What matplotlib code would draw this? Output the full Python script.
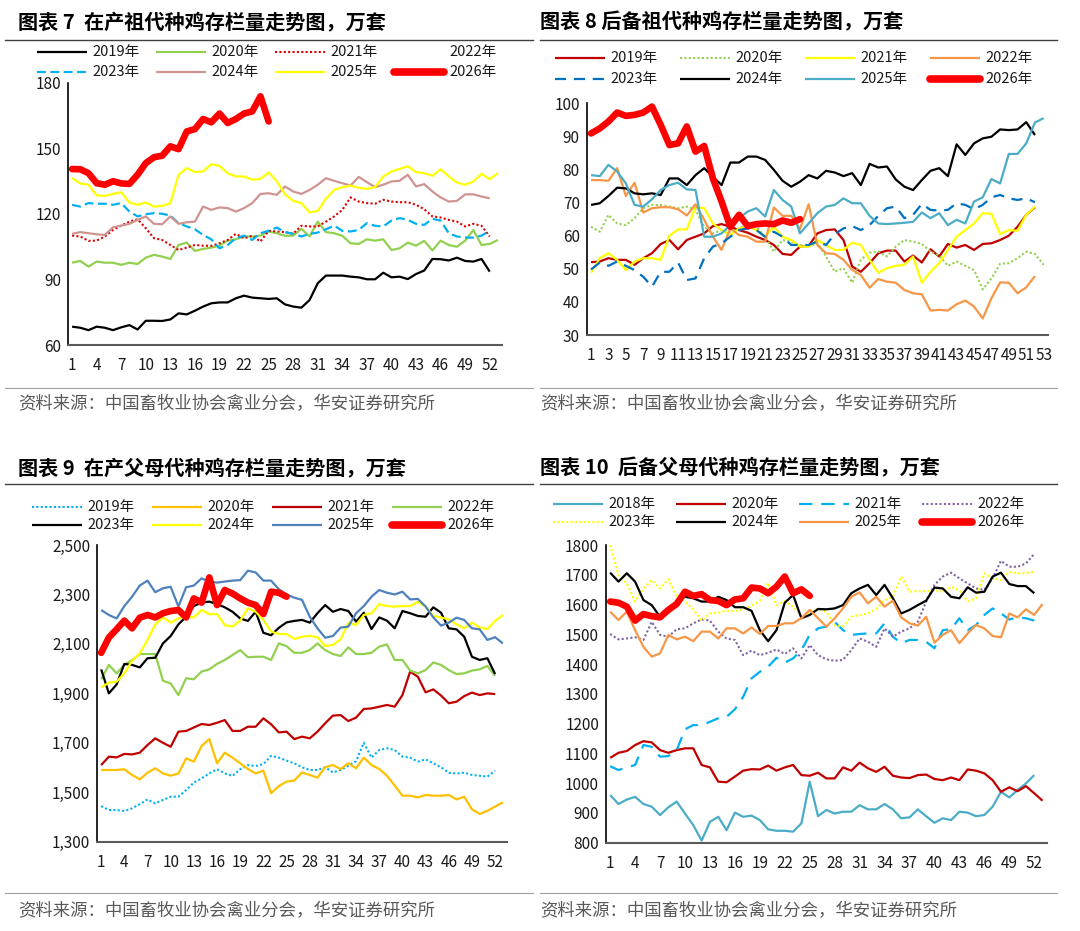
import matplotlib
matplotlib.use("Agg")
import matplotlib.pyplot as plt
from matplotlib.lines import Line2D
import numpy as np

plt.rcParams['font.family'] = ['Noto Sans CJK SC', 'DejaVu Sans']

W, H = 1080, 931

# ---------------- 图表7 在产祖代 ----------------
p1_2019 = [68.4, 67.9, 66.8, 68.4, 67.9, 66.8, 68.1, 69.1, 67.1, 71.1, 71.1, 71.0, 71.7, 74.5, 74.0, 75.7, 77.6, 79.1,
           79.5, 79.5, 81.4, 82.6, 81.7, 81.4, 81.1, 81.4, 78.6, 77.6, 77.1, 80.6, 88.3, 91.8, 91.8, 91.8, 91.3, 91.0,
           90.1, 90.1, 93.1, 91.0, 91.3, 90.2, 92.5, 94.1, 99.4, 99.3, 98.7, 100.0, 98.5, 98.2, 99.4, 93.6]
p1_2020 = [97.7, 98.5, 95.9, 98.2, 97.7, 97.7, 96.7, 97.7, 97.1, 100.0, 101.3, 100.5, 99.4, 105.8, 106.9, 103.1, 104.0,
           104.6, 105.5, 107.8, 108.4, 109.7, 109.7, 110.1, 112.0, 111.2, 110.0, 110.1, 113.2, 109.7, 116.5, 111.7,
           111.2, 110.0, 106.6, 106.3, 108.4, 107.8, 108.4, 103.5, 104.3, 106.9, 105.5, 107.7, 103.3, 107.8, 105.8,
           105.0, 107.8, 112.7, 105.8, 106.3, 108.1]
p1_2021 = [110.1, 109.7, 107.7, 107.8, 109.7, 112.7, 114.7, 116.5, 117.6, 113.5, 108.9, 108.1, 105.8, 103.5, 104.6,
           105.8, 105.5, 105.4, 106.6, 108.1, 110.9, 108.9, 110.0, 107.4, 112.3, 112.0, 111.7, 111.0, 114.6, 114.3,
           114.3, 116.5, 118.9, 121.9, 127.6, 125.7, 125.0, 124.7, 126.5, 125.7, 125.4, 125.4, 124.2, 122.2, 118.9,
           118.4, 117.3, 116.5, 114.3, 115.5, 114.6, 109.7]
p1_2023 = [124.2, 123.4, 125.0, 124.7, 124.7, 124.2, 125.0, 121.1, 118.9, 119.9, 120.4, 120.1, 119.3, 115.8, 114.3,
           113.0, 110.4, 108.4, 104.3, 105.8, 108.9, 110.1, 108.1, 111.2, 112.3, 113.8, 111.7, 110.9, 109.7, 110.9,
           111.5, 113.0, 114.7, 112.3, 112.0, 112.7, 115.8, 114.6, 114.3, 117.0, 118.1, 117.3, 115.5, 115.0, 117.8,
           117.0, 111.2, 109.7, 109.2, 109.2, 110.1, 112.3]
p1_2024 = [110.9, 111.7, 111.2, 110.7, 110.4, 113.9, 114.7, 115.5, 117.3, 118.9, 115.5, 115.3, 118.9, 115.5, 116.2,
           116.5, 123.4, 121.9, 123.0, 122.7, 121.1, 122.7, 125.0, 129.2, 129.5, 128.8, 132.6, 130.3, 129.2, 131.0,
           133.4, 136.4, 135.2, 134.1, 133.0, 137.0, 134.6, 132.3, 133.4, 134.9, 135.2, 138.0, 132.6, 133.7, 130.3,
           127.6, 125.7, 126.0, 129.0, 129.0, 128.0, 127.2]
p1_2025 = [136.4, 134.0, 133.4, 128.5, 128.3, 129.2, 130.0, 125.3, 124.2, 125.3, 123.4, 123.7, 125.0, 138.0, 141.0,
           139.2, 139.5, 142.8, 142.0, 138.7, 137.2, 137.2, 135.7, 136.1, 139.0, 135.0, 129.0, 126.0, 125.0, 120.7,
           121.4, 127.0, 131.0, 132.3, 133.0, 132.0, 131.5, 132.3, 137.2, 139.5, 140.7, 141.8, 139.2, 138.7, 137.5,
           140.5, 137.2, 134.4, 133.4, 134.9, 138.4, 136.0, 138.7]
p1_2026 = [140.6, 140.5, 138.7, 134.1, 133.4, 135.0, 134.0, 133.8, 138.0, 143.3, 146.0, 146.7, 151.0, 149.7, 157.8,
           158.9, 163.5, 162.0, 166.0, 161.7, 163.5, 166.0, 167.0, 173.9, 162.4]

# ---------------- 图表8 后备祖代 ----------------
p2_2019 = [52.0, 52.2, 53.2, 52.7, 52.7, 51.2, 53.2, 54.7, 57.5, 58.7, 55.9, 58.7, 59.7, 60.7, 62.9, 63.5, 62.7, 61.7,
           60.9, 59.7, 58.7, 57.2, 54.5, 54.2, 56.7, 56.9, 60.7, 61.7, 61.9, 58.7, 50.7, 49.1, 51.7, 54.7, 55.5, 55.5,
           52.2, 54.0, 51.9, 55.9, 53.7, 57.5, 56.4, 57.2, 55.7, 57.5, 57.7, 58.7, 60.0, 62.7, 66.3, 68.6]
p2_2020 = [62.7, 61.2, 66.3, 63.7, 63.2, 65.3, 68.3, 69.3, 69.3, 68.8, 68.3, 68.8, 67.8, 62.7, 60.7, 61.7, 61.2, 62.2,
           63.2, 62.7, 59.7, 55.2, 58.7, 58.2, 57.2, 56.7, 57.7, 53.7, 49.1, 50.2, 45.8, 52.7, 54.9, 55.2, 53.7, 56.7,
           58.7, 58.2, 57.5, 55.2, 54.0, 50.9, 52.2, 50.9, 49.6, 43.8, 47.1, 51.5, 51.7, 53.2, 55.2, 54.5, 51.2]
p2_2021 = [48.8, 53.2, 54.7, 52.7, 49.6, 52.2, 53.2, 53.2, 52.7, 60.0, 61.9, 61.9, 68.6, 68.3, 63.7, 61.7, 60.2, 62.2,
           62.7, 61.7, 59.7, 62.7, 59.7, 58.7, 56.7, 56.7, 58.7, 57.2, 55.7, 55.7, 57.9, 57.2, 52.7, 48.8, 50.2, 50.9,
           51.2, 53.7, 45.8, 49.1, 51.7, 55.7, 59.7, 61.7, 63.7, 66.8, 66.6, 60.5, 61.7, 61.5, 66.3, 68.8]
p2_2022 = [76.8, 76.8, 76.6, 80.4, 72.0, 76.0, 67.0, 68.3, 68.6, 68.6, 68.0, 66.1, 69.5, 64.8, 59.7, 55.7, 62.2, 60.2,
           59.7, 58.2, 58.2, 68.5, 66.0, 66.0, 62.0, 69.5, 57.2, 54.7, 54.5, 52.7, 49.7, 48.1, 44.3, 46.9, 46.1, 45.8,
           43.6, 42.6, 42.3, 37.4, 37.6, 37.4, 39.3, 40.4, 38.6, 35.0, 41.1, 45.9, 45.8, 42.6, 44.4, 47.8]
p2_2023 = [49.8, 51.9, 50.9, 52.2, 50.9, 49.6, 47.6, 44.6, 49.1, 49.1, 51.9, 46.6, 47.1, 53.2, 56.7, 57.7, 59.7, 61.7,
           62.2, 61.7, 59.7, 61.2, 59.7, 57.2, 57.2, 57.2, 58.2, 57.2, 60.5, 62.2, 62.9, 61.7, 63.2, 66.0, 68.3, 68.8,
           65.3, 66.3, 69.6, 67.8, 67.6, 67.8, 69.8, 69.3, 68.0, 69.3, 71.6, 72.3, 71.3, 70.8, 71.3, 70.1]
p2_2024 = [69.3, 69.8, 72.0, 74.5, 74.3, 72.8, 72.5, 72.8, 72.3, 77.3, 77.3, 75.3, 78.3, 80.4, 77.8, 75.3, 82.1, 82.1,
           83.9, 83.9, 82.9, 79.9, 76.6, 74.8, 76.3, 78.3, 77.3, 79.6, 79.1, 78.0, 78.9, 75.3, 81.7, 80.6, 80.9, 77.0,
           74.8, 73.8, 76.8, 79.6, 80.4, 78.0, 87.6, 84.4, 87.9, 89.4, 89.9, 92.1, 91.9, 92.1, 94.3, 90.4]
p2_2025 = [78.3, 78.0, 81.4, 79.4, 75.8, 69.3, 68.8, 71.0, 73.8, 75.3, 76.0, 74.0, 73.8, 59.7, 59.7, 60.7, 63.2, 65.3,
           67.3, 68.3, 65.8, 73.8, 70.8, 68.8, 60.7, 63.7, 66.8, 68.8, 69.3, 71.3, 69.8, 69.8, 66.0, 63.7, 63.5, 63.7,
           63.9, 64.2, 67.0, 65.3, 66.8, 63.2, 64.8, 63.7, 70.3, 71.6, 77.1, 75.8, 84.7, 84.7, 87.9, 94.2, 95.5]
p2_2026 = [90.9, 92.4, 94.5, 97.2, 96.2, 96.5, 97.2, 99.0, 93.5, 87.4, 87.9, 93.0, 85.4, 87.1, 77.3, 70.3, 62.7, 66.3,
           62.9, 63.5, 63.7, 63.5, 64.6, 63.9, 65.0]

# ---------------- 图表9 在产父母代 ----------------
p3_2019 = [1444, 1428, 1428, 1424, 1435, 1452, 1471, 1455, 1469, 1482, 1482, 1509, 1539, 1556, 1576, 1593, 1576, 1566,
           1593, 1610, 1606, 1614, 1647, 1640, 1628, 1617, 1601, 1590, 1590, 1601, 1580, 1590, 1607, 1626, 1700, 1640,
           1671, 1678, 1671, 1644, 1640, 1624, 1633, 1617, 1601, 1579, 1576, 1579, 1570, 1567, 1563, 1587]
p3_2020 = [1590, 1590, 1590, 1593, 1570, 1552, 1579, 1597, 1576, 1567, 1576, 1637, 1624, 1687, 1715, 1617, 1660, 1640,
           1617, 1594, 1576, 1587, 1496, 1525, 1543, 1547, 1580, 1570, 1559, 1601, 1610, 1594, 1617, 1597, 1640, 1610,
           1594, 1567, 1527, 1486, 1486, 1479, 1489, 1486, 1486, 1489, 1471, 1482, 1431, 1412, 1425, 1442, 1459]
p3_2021 = [1610, 1644, 1641, 1655, 1653, 1660, 1691, 1718, 1700, 1684, 1745, 1748, 1762, 1776, 1772, 1781, 1792, 1748,
           1748, 1765, 1765, 1799, 1775, 1742, 1745, 1715, 1725, 1718, 1745, 1779, 1810, 1812, 1788, 1802, 1837, 1839,
           1846, 1853, 1846, 1893, 1988, 1967, 1904, 1916, 1891, 1860, 1866, 1889, 1903, 1893, 1900, 1897]
p3_2022 = [1957, 2015, 1981, 2015, 2035, 2059, 2059, 2059, 1951, 1940, 1893, 1961, 1957, 1988, 1997, 2019, 2035, 2055,
           2075, 2046, 2048, 2048, 2035, 2102, 2091, 2064, 2064, 2075, 2102, 2075, 2059, 2051, 2086, 2059, 2059, 2064,
           2089, 2098, 2035, 2035, 1992, 1981, 1994, 2025, 2015, 1994, 1978, 1981, 1992, 1997, 2011, 1971]
p3_2023 = [1997, 1900, 1936, 2019, 2015, 2005, 2042, 2044, 2102, 2132, 2179, 2210, 2253, 2267, 2271, 2261, 2248, 2230,
           2203, 2193, 2230, 2145, 2135, 2165, 2187, 2193, 2197, 2186, 2224, 2257, 2230, 2241, 2233, 2190, 2226, 2160,
           2207, 2194, 2163, 2233, 2224, 2213, 2210, 2248, 2226, 2163, 2159, 2129, 2048, 2035, 2042, 1978]
p3_2024 = [1924, 1943, 1947, 1981, 2031, 2062, 2116, 2179, 2207, 2186, 2203, 2213, 2207, 2237, 2220, 2221, 2176, 2170,
           2194, 2244, 2230, 2197, 2150, 2140, 2140, 2120, 2129, 2133, 2127, 2091, 2096, 2118, 2186, 2176, 2217, 2224,
           2261, 2253, 2251, 2253, 2253, 2271, 2251, 2213, 2207, 2199, 2179, 2163, 2186, 2167, 2160, 2193, 2217]
p3_2025 = [2237, 2217, 2203, 2253, 2291, 2336, 2356, 2309, 2325, 2331, 2251, 2329, 2336, 2365, 2352, 2348, 2352, 2356,
           2358, 2396, 2389, 2356, 2356, 2321, 2300, 2287, 2278, 2210, 2163, 2125, 2132, 2166, 2170, 2224, 2253, 2291,
           2318, 2307, 2300, 2311, 2280, 2282, 2251, 2207, 2174, 2186, 2206, 2197, 2163, 2159, 2116, 2127, 2102]
p3_2026 = [2064, 2126, 2159, 2194, 2163, 2206, 2217, 2207, 2224, 2233, 2237, 2207, 2284, 2267, 2369, 2257, 2318, 2304,
           2284, 2267, 2257, 2221, 2311, 2307, 2291]

# ---------------- 图表10 后备父母代 ----------------
p4_2018 = [960, 930, 945, 954, 930, 921, 893, 919, 938, 898, 859, 807, 870, 887, 842, 901, 887, 891, 876, 845, 840, 840,
           837, 865, 1005, 889, 910, 898, 904, 904, 926, 912, 912, 930, 912, 882, 885, 912, 889, 867, 882, 876, 904,
           901, 889, 893, 921, 971, 952, 977, 999, 1027]
p4_2020 = [1085, 1102, 1108, 1128, 1141, 1137, 1111, 1102, 1111, 1117, 1117, 1061, 1053, 1005, 1003, 1022, 1042, 1047,
           1046, 1059, 1042, 1053, 1061, 1027, 1025, 1035, 1016, 1016, 1053, 1042, 1069, 1050, 1038, 1055, 1025, 1019,
           1017, 1027, 1029, 1014, 1010, 1019, 1010, 1046, 1042, 1033, 1010, 971, 986, 973, 990, 966, 941]
p4_2021 = [1057, 1044, 1053, 1061, 1128, 1122, 1089, 1091, 1111, 1181, 1195, 1195, 1206, 1218, 1223, 1248, 1290, 1352,
           1374, 1391, 1421, 1405, 1419, 1447, 1498, 1520, 1526, 1542, 1514, 1498, 1501, 1503, 1503, 1537, 1492, 1470,
           1481, 1481, 1475, 1453, 1514, 1517, 1554, 1514, 1531, 1565, 1587, 1570, 1550, 1557, 1554, 1546]
p4_2022 = [1501, 1483, 1486, 1490, 1481, 1542, 1498, 1492, 1517, 1520, 1537, 1550, 1546, 1509, 1486, 1481, 1430, 1445,
           1430, 1438, 1449, 1434, 1453, 1419, 1464, 1430, 1416, 1411, 1414, 1447, 1486, 1475, 1458, 1520, 1492, 1509,
           1520, 1542, 1610, 1666, 1694, 1707, 1688, 1671, 1654, 1649, 1688, 1747, 1727, 1727, 1738, 1770]
p4_2023 = [1800, 1699, 1671, 1610, 1654, 1682, 1654, 1685, 1626, 1610, 1584, 1546, 1570, 1573, 1579, 1578, 1584, 1595,
           1613, 1673, 1598, 1612, 1593, 1561, 1570, 1587, 1575, 1531, 1526, 1559, 1565, 1570, 1585, 1615, 1626, 1694,
           1643, 1645, 1645, 1649, 1643, 1660, 1647, 1610, 1621, 1705, 1688, 1682, 1710, 1705, 1705, 1710]
p4_2024 = [1707, 1677, 1705, 1677, 1615, 1598, 1559, 1576, 1612, 1626, 1621, 1610, 1610, 1626, 1615, 1591, 1591, 1579,
           1514, 1477, 1514, 1606, 1632, 1554, 1565, 1585, 1584, 1587, 1598, 1638, 1654, 1666, 1632, 1666, 1621, 1570,
           1582, 1598, 1613, 1657, 1654, 1626, 1621, 1658, 1640, 1643, 1694, 1707, 1669, 1662, 1662, 1638]
p4_2025 = [1576, 1548, 1576, 1514, 1458, 1425, 1436, 1498, 1483, 1492, 1477, 1509, 1509, 1486, 1520, 1520, 1503, 1523,
           1501, 1528, 1528, 1537, 1537, 1554, 1582, 1554, 1526, 1554, 1587, 1626, 1641, 1604, 1626, 1593, 1613, 1557,
           1537, 1529, 1559, 1472, 1498, 1514, 1470, 1503, 1531, 1520, 1494, 1490, 1570, 1557, 1584, 1565, 1602]
p4_2026 = [1610, 1606, 1593, 1546, 1568, 1561, 1557, 1582, 1602, 1643, 1629, 1635, 1615, 1612, 1598, 1617, 1621, 1657,
           1654, 1638, 1660, 1694, 1638, 1651, 1629]

SOLID = '-'
DOT = (0, (1, 1.1))
THICK = 4.8

panels = [
    dict(title='图表 7  在产祖代种鸡存栏量走势图，万套', tx=18, ty=22, hline=(5, 533, 40),
         rect=(68, 83, 502, 345), ylim=(60, 180), yticks=[60, 90, 120, 150, 180], xticks=range(1, 53, 3),
         ytfmt='{:.0f}', leg=(37, 119, [52, 72]), src=(18, 404), sline=(5, 533, 388),
         series=[('2019年', p1_2019, 'black', SOLID, 1.6),
                 ('2020年', p1_2020, '#92D050', SOLID, 1.6),
                 ('2021年', p1_2021, '#E00000', DOT, 1.5),
                 ('2022年', None, None, SOLID, 1.6),
                 ('2023年', p1_2023, '#00B0F0', (0, (4, 2)), 1.6),
                 ('2024年', p1_2024, '#D09490', SOLID, 1.6),
                 ('2025年', p1_2025, '#FFFF00', SOLID, 1.6),
                 ('2026年', p1_2026, '#FF0000', SOLID, THICK)]),
    dict(title='图表 8 后备祖代种鸡存栏量走势图，万套', tx=540, ty=22, hline=(540, 1057, 40),
         rect=(586.7, 103.3, 1048, 335), ylim=(30, 100), yticks=range(30, 101, 10), xticks=range(1, 54, 2),
         ytfmt='{:.0f}', leg=(555, 125, [58, 79]), src=(540, 404), sline=(540, 1057, 388),
         series=[('2019年', p2_2019, '#C00000', SOLID, 1.6),
                 ('2020年', p2_2020, '#92D050', DOT, 1.5),
                 ('2021年', p2_2021, '#FFFF00', SOLID, 1.6),
                 ('2022年', p2_2022, '#F79646', SOLID, 1.6),
                 ('2023年', p2_2023, '#0070C0', (0, (5, 3.5)), 1.6),
                 ('2024年', p2_2024, 'black', SOLID, 1.6),
                 ('2025年', p2_2025, '#4BACC6', SOLID, 1.6),
                 ('2026年', p2_2026, '#FF0000', SOLID, THICK)]),
    dict(title='图表 9  在产父母代种鸡存栏量走势图，万套', tx=18, ty=468, hline=(5, 533, 484),
         rect=(97.3, 545, 506.7, 841.7), ylim=(1300, 2500), yticks=range(1300, 2501, 200), xticks=range(1, 53, 3),
         ytfmt='{:,.0f}', leg=(32, 120, [507, 525]), src=(18, 911), sline=(5, 533, 893),
         series=[('2019年', p3_2019, '#00B0F0', DOT, 1.5),
                 ('2020年', p3_2020, '#FFC000', SOLID, 1.6),
                 ('2021年', p3_2021, '#C00000', SOLID, 1.6),
                 ('2022年', p3_2022, '#92D050', SOLID, 1.6),
                 ('2023年', p3_2023, 'black', SOLID, 1.6),
                 ('2024年', p3_2024, '#FFFF00', SOLID, 1.6),
                 ('2025年', p3_2025, '#4F81BD', SOLID, 1.6),
                 ('2026年', p3_2026, '#FF0000', SOLID, THICK)]),
    dict(title='图表 10  后备父母代种鸡存栏量走势图，万套', tx=540, ty=468, hline=(540, 1057, 484),
         rect=(606, 545, 1046.7, 842.7), ylim=(800, 1800), yticks=range(800, 1801, 100), xticks=range(1, 53, 3),
         ytfmt='{:.0f}', leg=(553, 123, [504, 522]), src=(540, 911), sline=(540, 1057, 893),
         series=[('2018年', p4_2018, '#4BACC6', SOLID, 1.6),
                 ('2020年', p4_2020, '#C00000', SOLID, 1.6),
                 ('2021年', p4_2021, '#00B0F0', (0, (6, 4)), 1.6),
                 ('2022年', p4_2022, '#8064A2', DOT, 1.5),
                 ('2023年', p4_2023, '#FFFF00', DOT, 1.5),
                 ('2024年', p4_2024, 'black', SOLID, 1.6),
                 ('2025年', p4_2025, '#F79646', SOLID, 1.6),
                 ('2026年', p4_2026, '#FF0000', SOLID, THICK)]),
]

SOURCE = '资料来源：中国畜牧业协会禽业分会，华安证券研究所'

fig = plt.figure(figsize=(W / 100, H / 100), dpi=100)


def fx(x):
    return x / W


def fy(y):
    return 1 - y / H


for p in panels:
    # title and rules
    fig.text(fx(p['tx']), fy(p['ty']), p['title'], fontsize=14.5, fontweight='bold', va='center', ha='left')
    x0, x1, yl = p['hline']
    fig.add_artist(Line2D([fx(x0), fx(x1)], [fy(yl), fy(yl)], color='#404040', lw=1.0))
    x0, x1, yl = p['sline']
    fig.add_artist(Line2D([fx(x0), fx(x1)], [fy(yl), fy(yl)], color='#A0A0A0', lw=0.8))
    fig.text(fx(p['src'][0]), fy(p['src'][1]), SOURCE, fontsize=12.5, color='#595959', va='center', ha='left')

    l, t, r, b = p['rect']
    ax = fig.add_axes([fx(l), fy(b), (r - l) / W, (b - t) / H])
    for label, vals, color, ls, lw in p['series']:
        if vals is None:
            continue
        weeks = np.arange(1, len(vals) + 1)
        cap = 'round' if lw > 3 else 'butt'
        ax.plot(weeks, vals, color=color, linestyle=ls, lw=lw, solid_capstyle=cap,
                solid_joinstyle='round')
    ax.set_xlim(0.5, 53.5)
    ax.set_ylim(*p['ylim'])
    ax.set_yticks(list(p['yticks']))
    ax.set_yticklabels([p['ytfmt'].format(v) for v in p['yticks']])
    ax.set_xticks(list(p['xticks']))
    ax.set_xticklabels([str(v) for v in p['xticks']])
    ax.tick_params(axis='both', length=0, labelsize=11, colors='#1a1a1a')
    ax.tick_params(axis='x', pad=9)
    ax.tick_params(axis='y', pad=5)
    for s in ['top', 'right']:
        ax.spines[s].set_visible(False)
    ax.spines['left'].set_color('black')
    ax.spines['left'].set_linewidth(1.2)
    ax.spines['bottom'].set_color('#595959')
    ax.spines['bottom'].set_linewidth(1.5)
    ax.patch.set_alpha(0)

    # legend, two rows of four
    lx, step, rows = p['leg']
    for i, (label, vals, color, ls, lw) in enumerate(p['series']):
        row, col = divmod(i, 4)
        xs = lx + col * step
        ys = rows[row]
        if color is not None:
            cap = 'round' if lw > 3 else 'butt'
            fig.add_artist(Line2D([fx(xs), fx(xs + 50)], [fy(ys), fy(ys)], color=color, linestyle=ls,
                                  lw=lw * 1.15 if lw > 3 else lw, solid_capstyle=cap))
        fig.text(fx(xs + 55), fy(ys), label, fontsize=10.5, va='center', ha='left', color='#1a1a1a')

fig.savefig('out.png', dpi=100)
